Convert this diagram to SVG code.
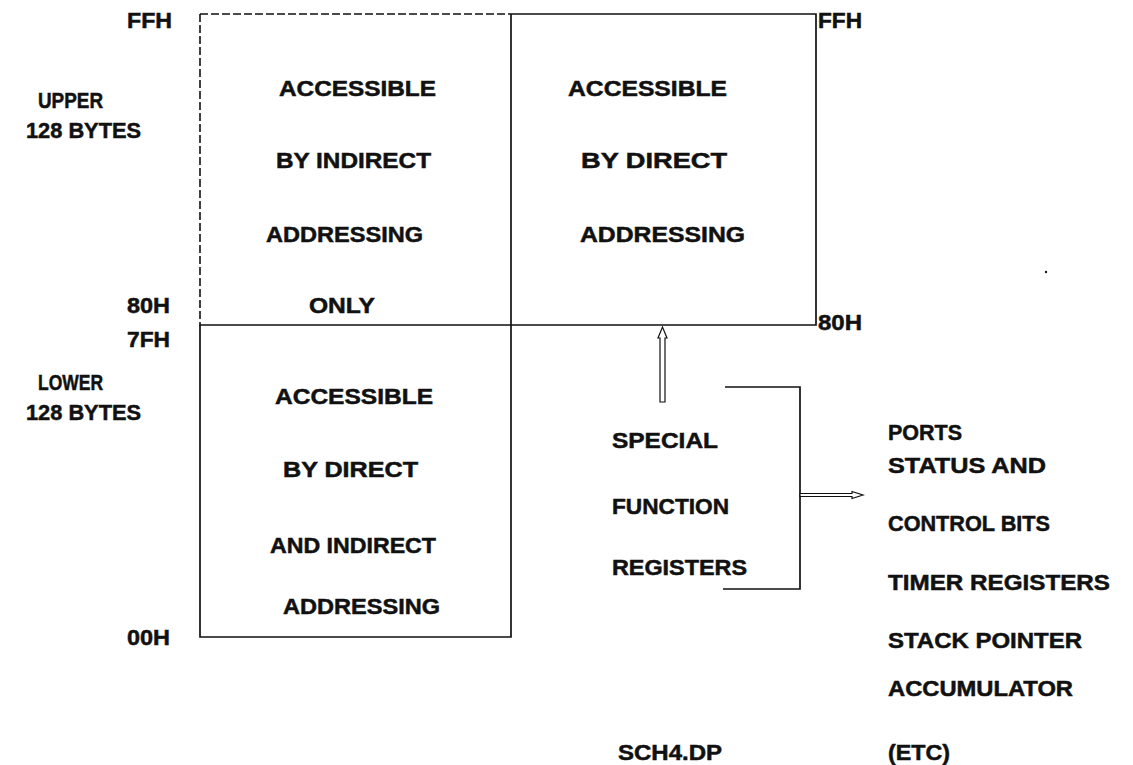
<svg xmlns="http://www.w3.org/2000/svg" width="1133" height="765" viewBox="0 0 1133 765">
<defs>
<style>
text{font-family:"Liberation Sans",Arial,sans-serif;font-weight:bold;font-size:22px;fill:#111;stroke:#111;stroke-width:0.5;}
.ln{fill:none;stroke:#111;stroke-width:1.7;}
.dash{fill:none;stroke:#111;stroke-width:1.6;stroke-dasharray:8 3;}
.arr{fill:#fff;stroke:#111;stroke-width:1.2;}
</style>
</defs>
<rect width="1133" height="765" fill="#fff"/>

<g id="address-labels">
<text x="127" y="28" textLength="45" lengthAdjust="spacingAndGlyphs">FFH</text>
<text x="38" y="108" textLength="65" lengthAdjust="spacingAndGlyphs">UPPER</text>
<text x="26" y="138" textLength="115" lengthAdjust="spacingAndGlyphs">128 BYTES</text>
<text x="127" y="313" textLength="43" lengthAdjust="spacingAndGlyphs">80H</text>
<text x="127" y="347" textLength="43" lengthAdjust="spacingAndGlyphs">7FH</text>
<text x="38" y="390" textLength="65" lengthAdjust="spacingAndGlyphs">LOWER</text>
<text x="26" y="420" textLength="115" lengthAdjust="spacingAndGlyphs">128 BYTES</text>
<text x="127" y="645" textLength="43" lengthAdjust="spacingAndGlyphs">00H</text>
<text x="818" y="28" textLength="44" lengthAdjust="spacingAndGlyphs">FFH</text>
<text x="818" y="330" textLength="44" lengthAdjust="spacingAndGlyphs">80H</text>
</g>

<g id="upper-indirect">
<path class="dash" d="M200,14 H511 M200,14 V326"/>
<path class="ln" d="M511,14 V325 M200,325 H511"/>
<text x="279" y="96" textLength="157" lengthAdjust="spacingAndGlyphs">ACCESSIBLE</text>
<text x="276" y="168" textLength="155" lengthAdjust="spacingAndGlyphs">BY INDIRECT</text>
<text x="266" y="242" textLength="157" lengthAdjust="spacingAndGlyphs">ADDRESSING</text>
<text x="309" y="313" textLength="66" lengthAdjust="spacingAndGlyphs">ONLY</text>
</g>

<g id="upper-direct">
<path class="ln" d="M511,14 H816 V325 H511"/>
<text x="568" y="96" textLength="159" lengthAdjust="spacingAndGlyphs">ACCESSIBLE</text>
<text x="581" y="168" textLength="146" lengthAdjust="spacingAndGlyphs">BY DIRECT</text>
<text x="580" y="242" textLength="165" lengthAdjust="spacingAndGlyphs">ADDRESSING</text>
</g>

<g id="lower">
<path class="ln" d="M200,325 V637 H511 V325"/>
<text x="275" y="404" textLength="158" lengthAdjust="spacingAndGlyphs">ACCESSIBLE</text>
<text x="283" y="477" textLength="135" lengthAdjust="spacingAndGlyphs">BY DIRECT</text>
<text x="270" y="553" textLength="166" lengthAdjust="spacingAndGlyphs">AND INDIRECT</text>
<text x="283" y="614" textLength="157" lengthAdjust="spacingAndGlyphs">ADDRESSING</text>
</g>

<g id="sfr">
<text x="612" y="448" textLength="106" lengthAdjust="spacingAndGlyphs">SPECIAL</text>
<text x="612" y="514" textLength="117" lengthAdjust="spacingAndGlyphs">FUNCTION</text>
<text x="612" y="575" textLength="135" lengthAdjust="spacingAndGlyphs">REGISTERS</text>
</g>

<g id="sfr-list">
<text x="888" y="440" textLength="74" lengthAdjust="spacingAndGlyphs">PORTS</text>
<text x="888" y="473" textLength="158" lengthAdjust="spacingAndGlyphs">STATUS AND</text>
<text x="888" y="531" textLength="162" lengthAdjust="spacingAndGlyphs">CONTROL BITS</text>
<text x="888" y="590" textLength="222" lengthAdjust="spacingAndGlyphs">TIMER REGISTERS</text>
<text x="888" y="648" textLength="194" lengthAdjust="spacingAndGlyphs">STACK POINTER</text>
<text x="888" y="696" textLength="185" lengthAdjust="spacingAndGlyphs">ACCUMULATOR</text>
<text x="888" y="760" textLength="62" lengthAdjust="spacingAndGlyphs">(ETC)</text>
</g>

<g id="caption">
<text x="618" y="760" textLength="104" lengthAdjust="spacingAndGlyphs">SCH4.DP</text>
<circle cx="1046" cy="272" r="1.2" fill="#111"/>
</g>

<g id="connectors">
<path class="ln" d="M725,387 H800 V589 H723"/>
<path class="arr" d="M660,402 V338 H658 L662.5,327 L667,338 H665 V402 Z"/>
<path class="arr" d="M800,493.5 H852 V491.5 L863,495 L852,498.5 V496.5 H800 Z"/>
</g>
</svg>
